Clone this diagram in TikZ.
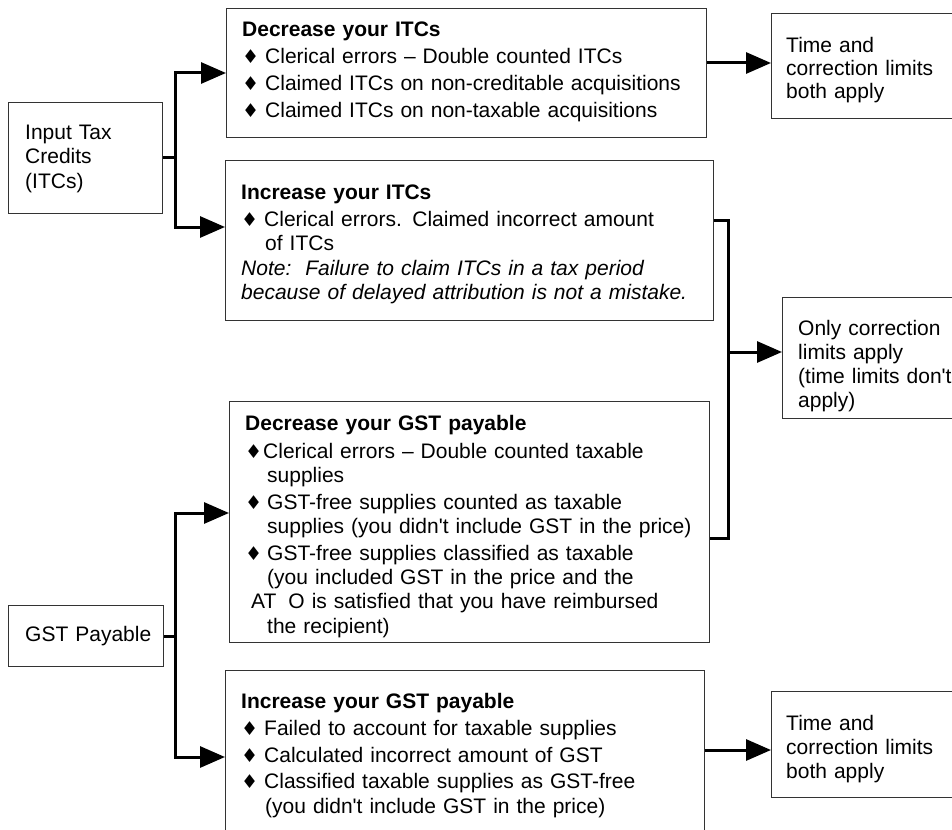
\documentclass[tikz,border=0pt]{standalone}
\usepackage{fontspec}
\setmainfont{Liberation Sans}[Ligatures=TeXOff]
\newfontfamily\dmfont{DejaVu Sans}
\usetikzlibrary{arrows.meta,calc}
\newcommand{\dm}{{\dmfont\fontsize{19}{24}\selectfont ♦}}
\newcommand{\itm}{\makebox[23pt][l]{\dm}}
\newcommand{\cnt}{\hspace*{24pt}}
\tikzset{
  box/.style={draw=black!80, line width=1pt, rectangle, anchor=north west, inner sep=0pt},
  txt/.style={anchor=base west, inner sep=0pt, align=left, text width=470pt, font=\fontsize{21}{24}\selectfont},
  conn/.style={line width=3pt, line cap=butt},
  arr/.style={-{Triangle[length=25pt,width=21pt]}}
}
\begin{document}
\begin{tikzpicture}[x=1pt,y=-1pt]
\useasboundingbox (0,0) rectangle (952,829);
% boxes
\node[box, minimum width=154pt, minimum height=111pt] (A) at (8,102) {};
\node[box, minimum width=480pt, minimum height=129pt] (B) at (226,8) {};
\node[box, minimum width=488pt, minimum height=160pt] (C) at (225,160) {};
\node[box, minimum width=200pt, minimum height=105pt] (D) at (771,13) {};
\node[box, minimum width=200pt, minimum height=121pt] (E) at (782,297) {};
\node[box, minimum width=480pt, minimum height=241pt] (F) at (229,401) {};
\node[box, minimum width=155pt, minimum height=61pt] (G) at (8,605) {};
\node[box, minimum width=479pt, minimum height=200pt] (H) at (225,670) {};
\node[box, minimum width=200pt, minimum height=106pt] (I) at (771,691) {};
% texts
\node[txt] (tA) at (25,140) {Input Tax\\Credits\\(ITCs)};
\node[txt] (tB) at (242,37) {\textbf{Decrease your ITCs}\\[2.7pt]
\itm Clerical errors – Double counted ITCs\\[2.7pt]
\itm Claimed ITCs on non-creditable acquisitions\\[2.7pt]
\itm Claimed ITCs on non-taxable acquisitions};
\node[txt] (tC) at (241,200) {\textbf{Increase your ITCs}\\[3pt]
\itm Clerical errors. Claimed incorrect amount\\
\cnt of ITCs\\
\textit{Note:\ \ Failure to claim ITCs in a tax period}\\
\textit{because of delayed attribution is not a mistake.}};
\node[txt] (tD) at (786,53) {Time and\\[-1pt]correction limits\\[-1pt]both apply};
\node[txt] (tE) at (798,335) {Only correction\\limits apply\\(time limits don't\\apply)};
\node[txt] (tF) at (245,430) {\textbf{Decrease your GST payable}\\[4pt]
\makebox[18pt][l]{\dm}Clerical errors – Double counted taxable\\
\hspace*{22pt}supplies\\[3pt]
\makebox[22pt][l]{\dm}GST-free supplies counted as taxable\\
\hspace*{22pt}supplies (you didn't include GST in the price)\\[3pt]
\makebox[22pt][l]{\dm}GST-free supplies classified as taxable\\
\hspace*{22pt}(you included GST in the price and the\\
\hspace*{6pt}AT\hspace{12pt}O is satisfied that you have reimbursed\\[1pt]
\hspace*{22pt}the recipient)};
\node[txt] (tG) at (25,641) {GST Payable};
\node[txt] (tH) at (241,708) {\textbf{Increase your GST payable}\\[3pt]
\itm Failed to account for taxable supplies\\[3pt]
\itm Calculated incorrect amount of GST\\[2pt]
\itm Classified taxable supplies as GST-free\\[1pt]
\cnt (you didn't include GST in the price)};
\node[txt] (tI) at (786,730) {Time and\\correction limits\\both apply};
% junction coordinates
\coordinate (jA) at ($(A.east)+(12,0)$);
\coordinate (cIn) at ($(C.north west)+(0,67)$);
\coordinate (dIn) at ($(D.north west)+(0,50)$);
\coordinate (cOut) at ($(C.north east)+(0,60)$);
\coordinate (fOut) at ($(F.north east)+(0,137)$);
\coordinate (jE) at (728,352);
\coordinate (jG) at ($(G.east)+(11,0)$);
\coordinate (fIn) at ($(F.north west)+(0,112)$);
\coordinate (hIn) at ($(H.north west)+(0,87)$);
\coordinate (iIn) at ($(I.north west)+(0,59)$);
% connectors
\draw[conn,arr] (A.east) -- (jA) |- (B.west);
\draw[conn,arr] (jA) |- (cIn);
\draw[conn,arr] (B.east |- dIn) -- (dIn);
\draw[conn] (cOut) -| (jE) |- (fOut);
\draw[conn,arr] (jE) -- (jE -| E.west);
\draw[conn,arr] (G.east) -- (jG) |- (fIn);
\draw[conn,arr] (jG) |- (hIn);
\draw[conn,arr] (H.east |- iIn) -- (iIn);
\end{tikzpicture}
\end{document}
